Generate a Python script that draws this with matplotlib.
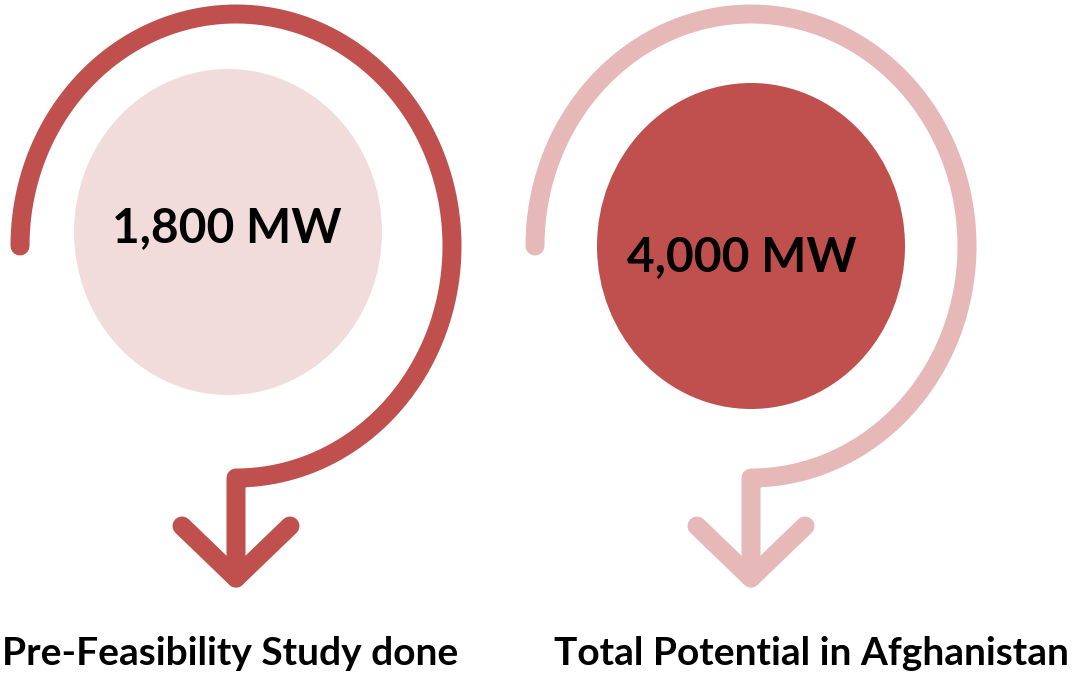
import matplotlib.pyplot as plt
import numpy as np
from matplotlib.patches import Ellipse

# values shown in the two circles and their captions
values = ["1,800 MW", "4,000 MW"]
captions = ["Pre-Feasibility Study done", "Total Potential in Afghanistan"]

dark = "#C0504D"
light = "#F2DCDB"
mid = "#E6B9B8"
arc_colors = [dark, mid]
fill_colors = [light, dark]

# layout (pixel units, y down)
centers_x = [236, 751]
arc_cy = 246
arc_rx, arc_ry = 216, 232
fill_x = [228, 751]
fill_cy = [232, 246]
fill_rx, fill_ry = 154, 163
text_pos = [(227, 242), (742, 271)]
caption_x = [230, 811]
lw = 19 * 72 / 100

fig = plt.figure(figsize=(10.76, 6.73), dpi=100)
fig.patch.set_facecolor('white')
ax = fig.add_axes([0, 0, 1, 1])
ax.set_xlim(0, 1076)
ax.set_ylim(673, 0)
ax.axis('off')

for i in range(2):
    cx = centers_x[i]
    # inner filled ellipse
    ax.add_patch(Ellipse((fill_x[i], fill_cy[i]), 2 * fill_rx, 2 * fill_ry,
                         facecolor=fill_colors[i], edgecolor='none', zorder=1))
    # arc going from the left side over the top down to the bottom, then straight down
    t = np.radians(np.linspace(180, -90, 300))
    xs = cx + arc_rx * np.cos(t)
    ys = arc_cy - arc_ry * np.sin(t)
    xs = np.append(xs, cx)
    ys = np.append(ys, 578)
    ax.plot(xs, ys, color=arc_colors[i], lw=lw, solid_capstyle='round',
            solid_joinstyle='round', zorder=2)
    # arrow head
    ax.plot([cx - 54, cx, cx + 54], [526, 578, 526], color=arc_colors[i], lw=lw,
            solid_capstyle='round', solid_joinstyle='round', zorder=2)
    ax.text(text_pos[i][0], text_pos[i][1], values[i], fontsize=34.5, fontweight='bold',
            family='Lato', ha='center', va='baseline', color='black', zorder=3)
    ax.text(caption_x[i], 665, captions[i], fontsize=28, fontweight='bold',
            family='Lato', ha='center', va='baseline', color='black', zorder=3)

fig.savefig('out.png', dpi=100, facecolor='white')
